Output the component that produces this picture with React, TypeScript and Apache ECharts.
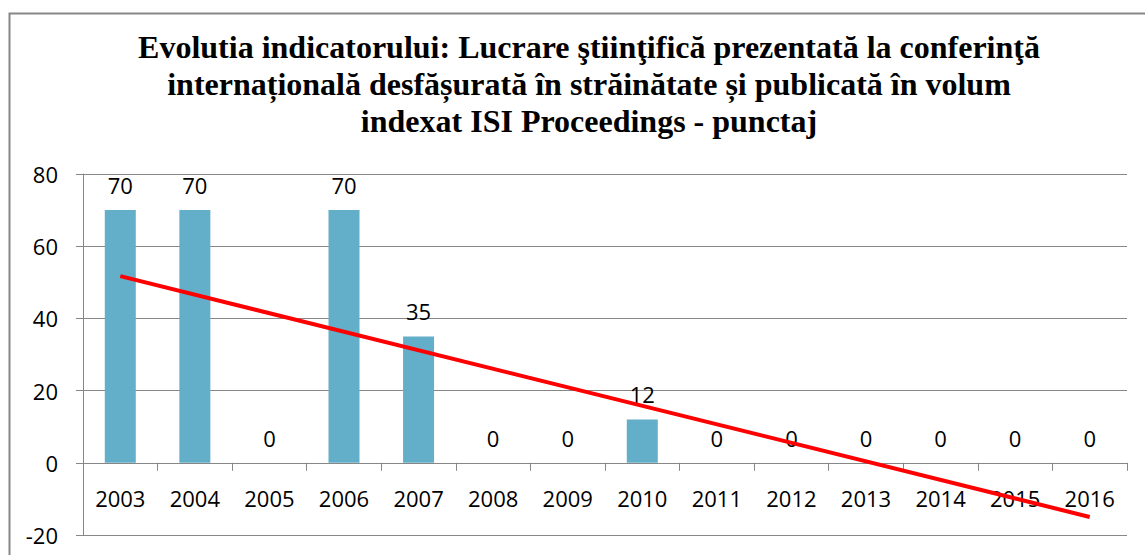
import React, { useEffect, useRef } from "react";
import * as echarts from "echarts";

const categories = ["2003", "2004", "2005", "2006", "2007", "2008", "2009", "2010", "2011", "2012", "2013", "2014", "2015", "2016"];
const values = [70, 70, 0, 70, 35, 0, 0, 12, 0, 0, 0, 0, 0, 0];
const trendValues = [51.7, null, null, null, null, null, null, null, null, null, null, null, null, -15.0];
const titleLines = [
  "Evolutia indicatorului: Lucrare ştiinţifică prezentată la conferinţă",
  "internațională desfășurată în străinătate și publicată în volum",
  "indexat ISI Proceedings - punctaj",
];

export default function App() {
  const ref = useRef<HTMLDivElement>(null);
  useEffect(() => {
    if (!ref.current) return;
    const chart = echarts.init(ref.current, null, { renderer: "svg" });
    const axisGray = "#878787";
    const labelFont = "Open Sans";
    chart.setOption({
      animation: false,
      backgroundColor: "#ffffff",
      title: {
        text: titleLines.join("\n"),
        left: 584,
        top: 23,
        textAlign: "center",
        textStyle: {
          fontFamily: "Liberation Serif",
          fontWeight: "bold",
          fontSize: 32,
          lineHeight: 37,
          color: "#000",
        },
      },
      graphic: [
        {
          type: "rect",
          left: 7,
          top: 11,
          shape: { x: 0, y: 0, width: 1150, height: 600 },
          style: { fill: "none", stroke: axisGray, lineWidth: 2 },
          silent: true,
        },
      ],
      grid: { left: 83, right: 18, top: 174, bottom: 20, containLabel: false, outerBoundsMode: "none" },
      xAxis: {
        type: "category",
        data: categories,
        axisLine: { show: true, onZero: true, lineStyle: { color: axisGray, width: 1 } },
        axisTick: { show: true, length: 8, lineStyle: { color: axisGray } },
        axisLabel: { fontFamily: labelFont, fontSize: 22, color: "#000", margin: -48 },
        splitLine: { show: false },
      },
      yAxis: {
        type: "value",
        min: -20,
        max: 80,
        interval: 20,
        axisLine: { show: true, lineStyle: { color: axisGray, width: 1 } },
        axisTick: { show: true, length: 7, lineStyle: { color: axisGray } },
        axisLabel: { fontFamily: labelFont, fontSize: 22, color: "#000", margin: 25 },
        splitLine: { show: true, lineStyle: { color: axisGray, width: 1 } },
      },
      series: [
        {
          type: "bar",
          data: values,
          barWidth: 31,
          itemStyle: { color: "#63AEC8" },
          label: {
            show: true,
            position: "top",
            distance: 14,
            fontFamily: labelFont,
            fontSize: 22,
            color: "#000",
          },
          z: 2,
        },
        {
          type: "line",
          data: trendValues,
          connectNulls: true,
          symbol: "none",
          lineStyle: { color: "#FF0000", width: 4 },
          itemStyle: { color: "#FF0000" },
          z: 5,
        },
      ],
    });
    return () => chart.dispose();
  }, []);
  return (
    <div
      ref={ref}
      style={{ position: "fixed", left: 0, top: 0, width: 1145, height: 555 }}
    />
  );
}
